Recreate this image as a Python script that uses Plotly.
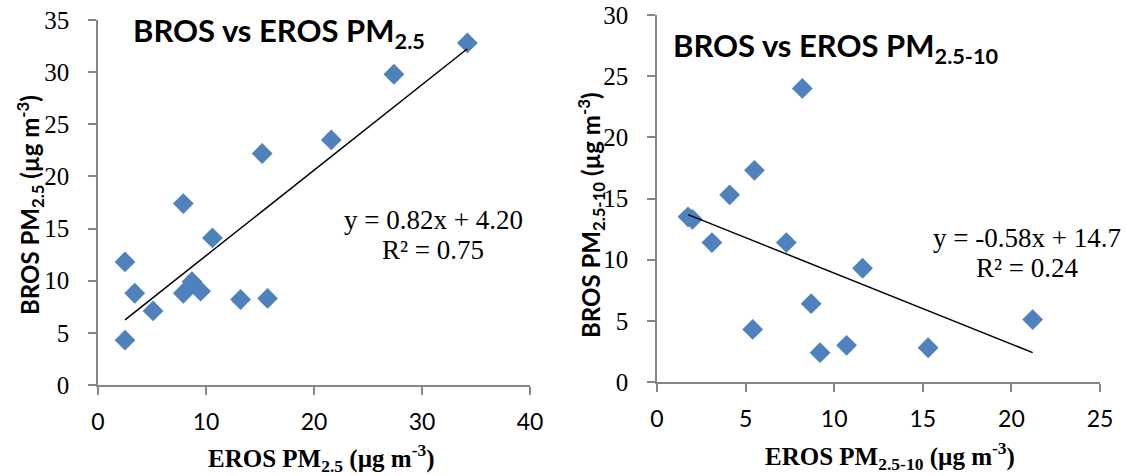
import plotly.graph_objects as go

# ---- data: PM2.5 ----
eros_pm25 = [2.5, 2.5, 3.4, 5.1, 7.9, 7.9, 8.7, 9.5, 10.6, 13.2, 15.7, 15.2, 21.6, 27.4, 34.2]
bros_pm25 = [4.3, 11.8, 8.8, 7.1, 17.4, 8.8, 9.9, 9.0, 14.1, 8.2, 8.3, 22.2, 23.5, 29.8, 32.8]
fit25_slope, fit25_icpt = 0.82, 4.20
fit25_label = ["y = 0.82x + 4.20", "R² = 0.75"]

# ---- data: PM2.5-10 ----
eros_pmc = [1.75, 2.0, 3.1, 4.1, 5.5, 5.4, 8.2, 7.3, 8.7, 9.2, 10.7, 11.6, 15.3, 21.2]
bros_pmc = [13.5, 13.3, 11.4, 15.3, 17.3, 4.3, 24.0, 11.4, 6.4, 2.4, 3.0, 9.3, 2.8, 5.1]
fitc_slope, fitc_icpt = -0.58, 14.7
fitc_label = ["y = -0.58x + 14.7", "R² = 0.24"]

x1_ticks = [0, 10, 20, 30, 40]
y1_ticks = [0, 5, 10, 15, 20, 25, 30, 35]
x2_ticks = [0, 5, 10, 15, 20, 25]
y2_ticks = [0, 5, 10, 15, 20, 25, 30]

W, H = 1126, 476
BLUE = "#4F81BD"
AX = "#868686"
SERIF = "Liberation Serif"
SANS = "Lato"

fig = go.Figure()

def line_pts(xs, m, b):
    lo, hi = min(xs), max(xs)
    return [lo, hi], [m * lo + b, m * hi + b]

fig.add_trace(go.Scatter(x=eros_pm25, y=bros_pm25, mode="markers",
                         marker=dict(symbol="diamond", size=16, color=BLUE, line=dict(width=0)),
                         xaxis="x", yaxis="y", showlegend=False))
lx, ly = line_pts(eros_pm25, fit25_slope, fit25_icpt)
fig.add_trace(go.Scatter(x=lx, y=ly, mode="lines", line=dict(color="black", width=1.5),
                         xaxis="x", yaxis="y", showlegend=False))

fig.add_trace(go.Scatter(x=eros_pmc, y=bros_pmc, mode="markers",
                         marker=dict(symbol="diamond", size=16, color=BLUE, line=dict(width=0)),
                         xaxis="x2", yaxis="y2", showlegend=False))
lx, ly = line_pts(eros_pmc, fitc_slope, fitc_icpt)
fig.add_trace(go.Scatter(x=lx, y=ly, mode="lines", line=dict(color="black", width=1.5),
                         xaxis="x2", yaxis="y2", showlegend=False))

def xa(dom, rng, ticks, anchor):
    return dict(domain=dom, range=rng, tickvals=ticks, showgrid=False, zeroline=False,
                showline=True, linecolor=AX, linewidth=1.5, ticks="outside", ticklen=8,
                tickcolor=AX, tickwidth=1.5, anchor=anchor, ticklabelstandoff=8,
                automargin=False,
                tickfont=dict(family=SANS, size=23, color="black"), fixedrange=True)

def ya(dom, rng, ticks, anchor):
    return dict(domain=dom, range=rng, tickvals=ticks, showgrid=False, zeroline=False,
                showline=True, linecolor=AX, linewidth=1.5, ticks="outside", ticklen=8,
                tickcolor=AX, tickwidth=1.5, anchor=anchor, ticklabelstandoff=14,
                automargin=False,
                tickfont=dict(family=SERIF, size=25, color="black"), fixedrange=True)

fig.update_layout(
    width=W, height=H, margin=dict(l=0, r=0, t=0, b=0),
    paper_bgcolor="white", plot_bgcolor="white",
    xaxis=xa([98 / W, 530 / W], [0, 40], x1_ticks, "y"),
    yaxis=ya([(H - 385) / H, (H - 20) / H], [0, 35], y1_ticks, "x"),
    xaxis2=xa([657 / W, 1100 / W], [0, 25], x2_ticks, "y2"),
    yaxis2=ya([(H - 382) / H, (H - 15) / H], [0, 30], y2_ticks, "x2"),
)

ann = []
def A(x, y, text, font, angle=0, xanchor="center"):
    ann.append(dict(x=x / W, y=1 - y / H, xref="paper", yref="paper", text=text,
                    showarrow=False, font=font, textangle=angle, xanchor=xanchor, yanchor="middle"))

title_font = dict(family=SANS, size=31, color="black", weight="bold")
A(131, 33, "BROS vs EROS PM<sub>2.5</sub>", title_font, xanchor="left")
A(671, 48, "BROS vs EROS PM<sub>2.5-10</sub>", title_font, xanchor="left")

eq_font = dict(family=SERIF, size=27, color="black")
A(433, 220, fit25_label[0], eq_font)
A(433, 250, fit25_label[1], eq_font)
A(1027, 238, fitc_label[0], eq_font)
A(1027, 268, fitc_label[1], eq_font)

ytitle_font = dict(family=SANS, size=24, color="black", weight="bold")
A(30, 205, "BROS PM<sub>2.5</sub> (µg m<sup>-3</sup>)", ytitle_font, angle=-90)
A(591, 215, "BROS PM<sub>2.5-10</sub> (µg m<sup>-3</sup>)", ytitle_font, angle=-90)

xtitle_font = dict(family=SERIF, size=25, color="black", weight="bold")
A(321, 458, "EROS PM<sub>2.5</sub> (µg m<sup>-3</sup>)", xtitle_font)
A(890, 456, "EROS PM<sub>2.5-10</sub> (µg m<sup>-3</sup>)", xtitle_font)

fig.update_layout(annotations=ann)
fig.write_html("out.html")
